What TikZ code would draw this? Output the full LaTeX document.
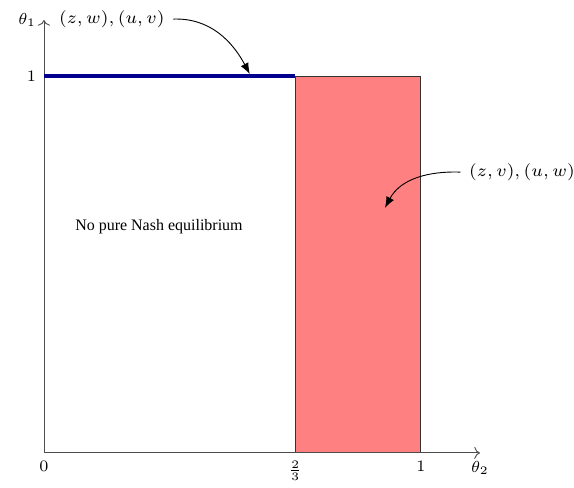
\documentclass[tikz,border=0pt]{standalone}
\usepackage[no-math]{fontspec}
\setmainfont{Liberation Serif}
\usetikzlibrary{arrows.meta}
\definecolor{navy}{HTML}{00008C}

\begin{document}
\begin{tikzpicture}[x=5.8cm, y=5.8cm, font=\scriptsize,
    region/.style={draw=black!80, fill=red!50},
    hint/.style={-{Latex[length=1.7mm,width=1.3mm]}, black}]
    \useasboundingbox (-0.1167,-0.0928) rectangle (1.406,1.2016);

    \draw[region] (2/3,0) rectangle (1,1);
    \draw[->, black!70] (0,0) -- (1.1565,0) node[below, black] (t2) {$\theta_2$};
    \draw[->, black!70] (0,0) -- (0,1.1485) node[left, black] (t1) {$\theta_1$};
    \draw[line width=1.75pt, navy] (0,1) -- (2/3,1);

    \node[below] (x0) at (0,0)   {$0$};
    \node[below] (x23) at (2/3,0) {$\frac{2}{3}$};
    \node[below] (x1) at (1,0)   {$1$};
    \node[left]  (y1) at (0,1)   {$1$};

    \node (nonash) at (0.305,0.6) {No pure Nash equilibrium};

    \node[scale=1.08] (zw) at (0.180,1.151) {$(z,w),(u,v)$};
    \coordinate (ptop) at (0.546,1.005);
    \draw[hint] (zw.east) to[out=2, in=118] (ptop);

    \node[scale=1.08] (zv) at (1.268,0.745) {$(z,v),(u,w)$};
    \coordinate (pred) at (0.9045,0.65);
    \draw[hint] (zv.west) to[out=178, in=62] (pred);
\end{tikzpicture}
\end{document}
